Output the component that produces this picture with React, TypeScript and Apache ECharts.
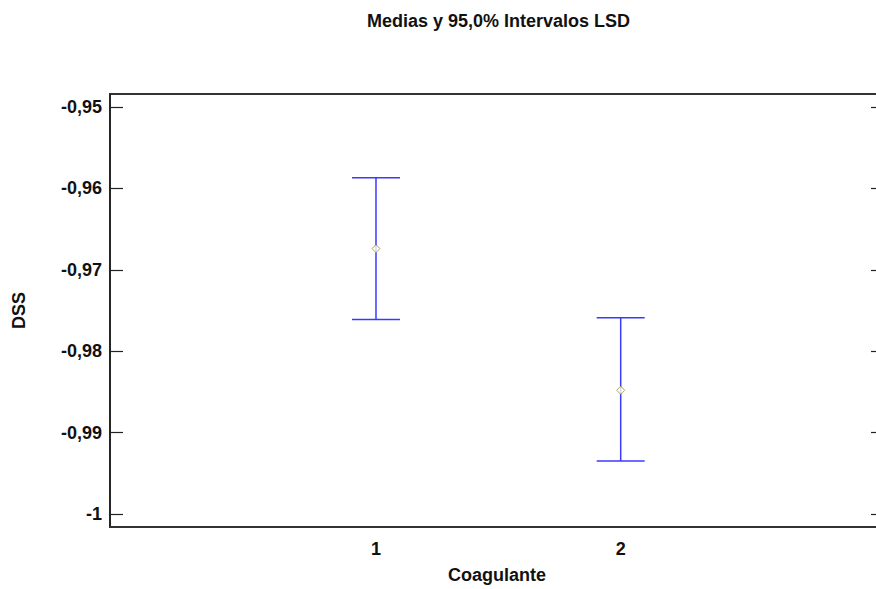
import React, { useEffect, useRef } from "react";
import * as echarts from "echarts";

const categories = [1, 2];
const means = [-0.9674, -0.9848];
const lowerLimits = [-0.9761, -0.9935];
const upperLimits = [-0.9587, -0.9759];
const yTickValues = [-1, -0.99, -0.98, -0.97, -0.96, -0.95];
const xTickValues = [1, 2];

const FONT = "'Liberation Sans', Arial, sans-serif";

export default function App() {
  const ref = useRef<HTMLDivElement>(null);
  useEffect(() => {
    if (!ref.current) return;
    const chart = echarts.init(ref.current, null, { renderer: "svg" });
    const fmt = (v: number) => String(v).replace(".", ",");
    const yCommon = {
      type: "value" as const,
      min: -1.0016,
      max: -0.9484,
      splitLine: { show: false },
      axisLine: { show: true, onZero: false, lineStyle: { color: "#222", width: 1.5 } },
      axisTick: {
        show: true,
        inside: true,
        length: 13,
        customValues: yTickValues,
        lineStyle: { color: "#222", width: 1.2 },
      },
    };
    chart.setOption({
      animation: false,
      backgroundColor: "#fff",
      title: {
        text: "Medias y 95,0% Intervalos LSD",
        left: 362,
        top: 7,
        textStyle: { fontFamily: FONT, fontWeight: "bold", fontSize: 18, color: "#111" },
      },
      grid: {
        left: 110,
        top: 94,
        right: -8,
        bottom: 62,
        outerBoundsMode: "none",
        containLabel: false,
        show: true,
        borderColor: "#333",
        borderWidth: 2,
      },
      xAxis: {
        type: "value",
        min: -0.087,
        max: 3.076,
        name: "Coagulante",
        nameLocation: "middle",
        nameGap: 39,
        nameTextStyle: { fontFamily: FONT, fontWeight: "bold", fontSize: 18, color: "#111" },
        splitLine: { show: false },
        axisLine: { show: true, onZero: false, lineStyle: { color: "#333", width: 2 } },
        axisTick: { show: false },
        axisLabel: {
          customValues: xTickValues,
          fontFamily: FONT,
          fontWeight: "bold",
          fontSize: 18,
          color: "#111",
          margin: 13,
          formatter: fmt,
        },
      },
      yAxis: [
        {
          ...yCommon,
          position: "left",
          name: "DSS",
          nameLocation: "middle",
          nameGap: 82,
          nameRotate: 90,
          nameTextStyle: { fontFamily: FONT, fontWeight: "bold", fontSize: 18, color: "#111" },
          axisLabel: {
            customValues: yTickValues,
            fontFamily: FONT,
            fontWeight: "bold",
            fontSize: 18,
            color: "#111",
            margin: 8,
            formatter: fmt,
          },
        },
        {
          ...yCommon,
          position: "right",
          axisLabel: { show: false },
        },
      ],
      series: [
        {
          type: "custom",
          data: categories.map((c, i) => [c, lowerLimits[i], upperLimits[i]]),
          renderItem: (params: any, api: any) => {
            const x = api.value(0);
            const lo = api.coord([x, api.value(1)]);
            const hi = api.coord([x, api.value(2)]);
            const half = 24;
            const style = { stroke: "#3a3aff", lineWidth: 1.5 };
            return {
              type: "group",
              children: [
                { type: "line", shape: { x1: lo[0], y1: lo[1], x2: hi[0], y2: hi[1] }, style },
                { type: "line", shape: { x1: hi[0] - half, y1: hi[1], x2: hi[0] + half, y2: hi[1] }, style },
                { type: "line", shape: { x1: lo[0] - half, y1: lo[1], x2: lo[0] + half, y2: lo[1] }, style },
              ],
            };
          },
          z: 2,
        },
        {
          type: "scatter",
          data: categories.map((c, i) => [c, means[i]]),
          symbol: "diamond",
          symbolSize: 8,
          itemStyle: { color: "#ffffff", borderColor: "#9a9428", borderWidth: 1 },
          z: 3,
        },
      ],
    });
    return () => chart.dispose();
  }, []);
  return (
    <div
      ref={ref}
      style={{ position: "absolute", left: 0, top: 0, width: 876, height: 589 }}
    />
  );
}
